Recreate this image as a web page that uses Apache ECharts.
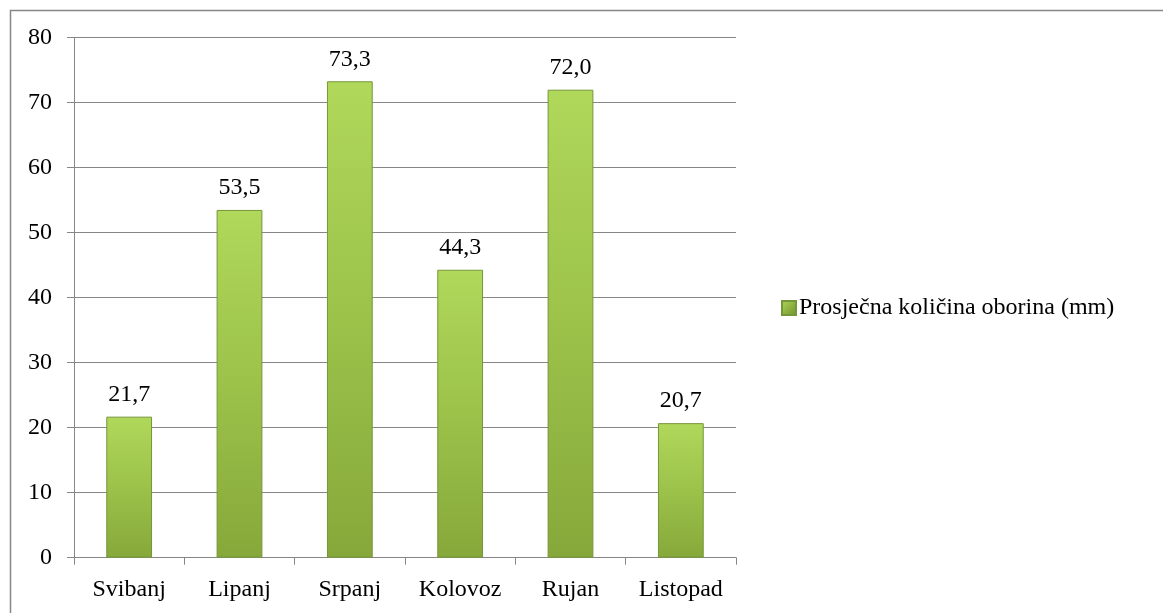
<!DOCTYPE html>
<html>
<head>
<meta charset="utf-8">
<script src="https://cdn.jsdelivr.net/npm/echarts@6/dist/echarts.min.js"></script>
<style>html,body{margin:0;padding:0;background:#fff}#c{width:1163px;height:613px}</style>
</head>
<body>
<div id="c"></div>
<script>
var categories = ['Svibanj', 'Lipanj', 'Srpanj', 'Kolovoz', 'Rujan', 'Listopad'];
var values = [21.7, 53.5, 73.3, 44.3, 72.0, 20.7];
var seriesName = 'Prosječna količina oborina (mm)';
var yTicks = [0, 10, 20, 30, 40, 50, 60, 70, 80];

var font = '"Liberation Serif", "Times New Roman", serif';
var chart = echarts.init(document.getElementById('c'));
var barColor = new echarts.graphic.LinearGradient(0, 0, 0, 1, [
  {offset: 0, color: '#b0d85a'},
  {offset: 0.5, color: '#9cc24a'},
  {offset: 1, color: '#86a83a'}
]);
var legendColor = new echarts.graphic.LinearGradient(0, 0, 1, 1, [
  {offset: 0, color: '#b0d85a'},
  {offset: 1, color: '#6f8f2a'}
]);
chart.setOption({
  animation: false,
  graphic: [{
    type: 'rect', left: 8, top: 8,
    shape: {width: 1200, height: 700},
    style: {fill: 'none', stroke: '#868686', lineWidth: 1.5},
    z: -1
  }],
  grid: {left: 74, right: 427, top: 37.7, bottom: 55.3, containLabel: false},
  legend: {
    data: [{name: seriesName, itemStyle: {color: legendColor}}],
    left: 776, top: 291,
    orient: 'vertical',
    icon: 'rect', itemWidth: 14, itemHeight: 14, itemGap: 4,
    textStyle: {fontFamily: font, fontSize: 24, color: '#000', padding: [0, 0, 0, -2]}
  },
  xAxis: {
    type: 'category', data: categories,
    axisLine: {lineStyle: {color: '#868686', width: 1}},
    axisTick: {show: true, length: 7, lineStyle: {color: '#868686'}},
    axisLabel: {fontFamily: font, fontSize: 24, color: '#000', margin: 20}
  },
  yAxis: {
    type: 'value', min: yTicks[0], max: yTicks[yTicks.length - 1], interval: 10,
    axisLine: {show: true, lineStyle: {color: '#868686', width: 1}},
    axisTick: {show: true, length: 7, lineStyle: {color: '#868686'}},
    splitLine: {lineStyle: {color: '#868686', width: 1}},
    axisLabel: {fontFamily: font, fontSize: 24, color: '#000', margin: 22}
  },
  series: [{
    name: seriesName, type: 'bar', data: values, barWidth: '41.5%',
    itemStyle: {color: barColor, borderColor: '#76963a', borderWidth: 1},
    label: {
      show: true, position: 'top', distance: 10,
      fontFamily: font, fontSize: 24, color: '#000',
      formatter: function (p) { return p.value.toFixed(1).replace('.', ','); }
    }
  }]
});
</script>
</body>
</html>
